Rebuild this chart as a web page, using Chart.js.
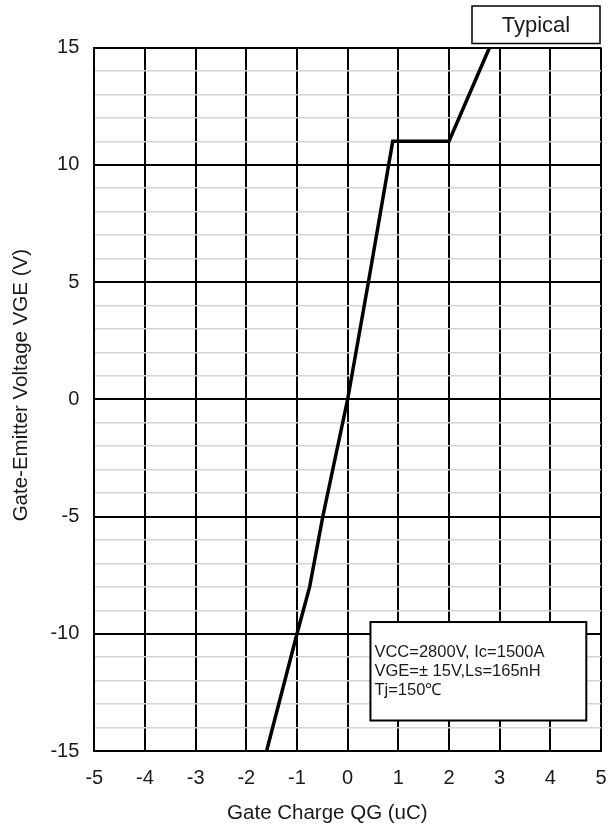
<!DOCTYPE html>
<html>
<head>
<meta charset="utf-8">
<script src="https://cdn.jsdelivr.net/npm/chart.js@4.4.1/dist/chart.umd.min.js"></script>
<style>
  html, body { margin: 0; padding: 0; background: #fff; }
  #wrap { width: 609px; height: 828px; }
</style>
</head>
<body>
<div id="wrap"><canvas id="gateChart" width="609" height="828"></canvas></div>
<script>
// Gate charge curve
const gateCharge = [-1.6, -1.0, -0.75, -0.49, 0, 0.41, 0.81, 0.89, 2.0, 2.8];
const gateVoltage = [-15, -10, -8, -5, 0, 5, 10, 11, 11, 15];

const xRange = [-5, 5];
const yRange = [-15, 15];
const xTitle = 'Gate Charge QG (uC)';
const yTitle = 'Gate-Emitter Voltage VGE (V)';
const conditionLines = ['VCC=2800V, Ic=1500A', 'VGE=\u00B1 15V,Ls=165nH', 'Tj=150\u2103'];
const typicalLabel = 'Typical';

const FONT = '"Liberation Sans", Arial, sans-serif';
const TEXT = '#1a1a1a';

// Eksen başlıkları ve kutular (başlıklar grafiğin tam ortasında değil, biraz kaymış)
const boxesPlugin = {
  id: 'boxes',
  afterDraw: (chart) => {
    const { ctx, chartArea, scales: { x, y } } = chart;
    ctx.save();

    ctx.fillStyle = TEXT;
    ctx.font = '20.5px ' + FONT;
    ctx.textAlign = 'center';
    ctx.textBaseline = 'middle';
    ctx.fillText(xTitle, x.getPixelForValue(-0.4), 813);
    ctx.save();
    ctx.translate(21, y.getPixelForValue(0.6));
    ctx.rotate(-Math.PI / 2);
    ctx.fillText(yTitle, 0, 0);
    ctx.restore();

    // Typical etiketi (grafik alanının sağ üstü)
    const tw = 128, th = 37.5;
    const tx = chartArea.right - tw - 1, ty = chartArea.top - th - 4;
    ctx.fillStyle = '#fff';
    ctx.fillRect(tx, ty, tw, th);
    ctx.strokeStyle = '#000';
    ctx.lineWidth = 1.5;
    ctx.strokeRect(tx, ty, tw, th);
    ctx.fillStyle = TEXT;
    ctx.font = '22px ' + FONT;
    ctx.fillText(typicalLabel, tx + tw / 2, ty + th / 2 + 1);

    // Koşul kutusu
    const left = x.getPixelForValue(0.45), right = x.getPixelForValue(4.71);
    const top = y.getPixelForValue(-9.5), bottom = y.getPixelForValue(-13.7);
    ctx.fillStyle = '#fff';
    ctx.fillRect(left, top, right - left, bottom - top);
    ctx.lineWidth = 2;
    ctx.strokeRect(left, top, right - left, bottom - top);
    ctx.fillStyle = TEXT;
    ctx.font = '16.5px ' + FONT;
    ctx.textAlign = 'left';
    conditionLines.forEach((line, i) => {
      ctx.fillText(line, left + 4, top + 30 + i * 19.3);
    });
    ctx.restore();
  }
};

new Chart(document.getElementById('gateChart'), {
  type: 'scatter',
  data: {
    datasets: [{
      data: gateCharge.map((q, i) => ({ x: q, y: gateVoltage[i] })),
      showLine: true,
      borderColor: '#000',
      borderWidth: 3.5,
      pointRadius: 0,
      tension: 0
    }]
  },
  options: {
    responsive: false,
    animation: false,
    layout: { padding: { left: 0, right: 8, top: 47.5, bottom: 0 } },
    plugins: { legend: { display: false }, tooltip: { enabled: false } },
    scales: {
      x: {
        type: 'linear',
        min: xRange[0],
        max: xRange[1],
        afterFit: (scale) => {
          scale.height = 77;
          scale.paddingLeft = 0;
          scale.paddingRight = 0;
        },
        border: { color: '#000', width: 2 },
        grid: { color: '#000', lineWidth: 2, drawTicks: false },
        ticks: { stepSize: 1, padding: 15, color: TEXT, font: { family: FONT, size: 20 } }
      },
      y: {
        type: 'linear',
        min: yRange[0],
        max: yRange[1],
        afterFit: (scale) => { scale.width = 94.3; },
        border: { color: '#000', width: 2 },
        grid: {
          drawTicks: false,
          color: (c) => (c.tick.value % 5 === 0 ? '#000' : '#d4d4d4'),
          lineWidth: (c) => (c.tick.value % 5 === 0 ? 2 : 1.5)
        },
        ticks: {
          stepSize: 1,
          autoSkip: false,
          padding: 15,
          color: TEXT,
          font: { family: FONT, size: 20 },
          callback: (v) => (v % 5 === 0 ? String(v) : '')
        }
      }
    }
  },
  plugins: [boxesPlugin]
});
</script>
</body>
</html>
